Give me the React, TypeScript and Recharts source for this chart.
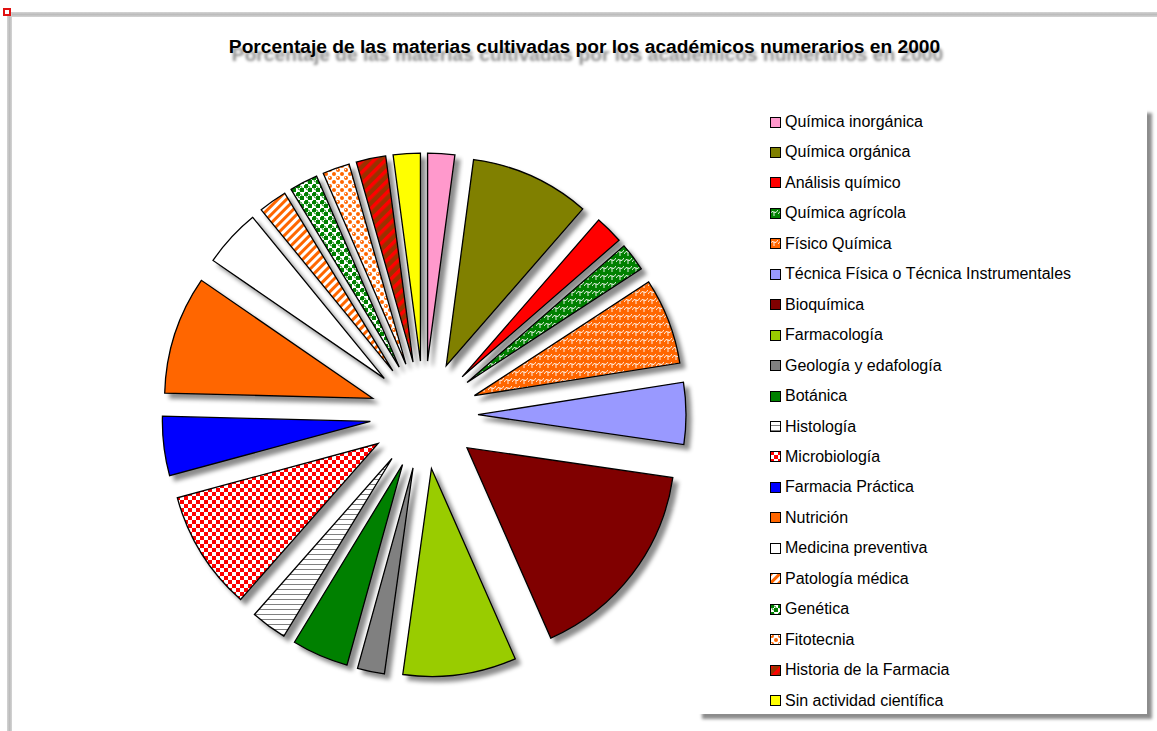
import { PieChart, Pie, Cell, Legend, Sector } from "recharts";

const categories: string[] = [
  "Química inorgánica",
  "Química orgánica",
  "Análisis químico",
  "Química agrícola",
  "Físico Química",
  "Técnica Física o Técnica Instrumentales",
  "Bioquímica",
  "Farmacología",
  "Geología y edafología",
  "Botánica",
  "Histología",
  "Microbiología",
  "Farmacia Práctica",
  "Nutrición",
  "Medicina preventiva",
  "Patología médica",
  "Genética",
  "Fitotecnia",
  "Historia de la Farmacia",
  "Sin actividad científica",
];

// porcentaje de cada materia
const values: number[] = [
  2.1, 9.3, 2.2, 2.2, 6.7, 4.8, 16.1, 8.8, 2.1, 4.4, 2.8, 9.3, 4.6, 9.2, 4.5,
  2.2, 2.2, 2.1, 2.3, 2.1,
];

const fills: string[] = [
  "#FF99CC",
  "#808000",
  "#FF0000",
  "url(#patAgricola)",
  "url(#patFisico)",
  "#9999FF",
  "#800000",
  "#99CC00",
  "#808080",
  "#008000",
  "url(#patHisto)",
  "url(#patMicro)",
  "#0000FF",
  "#FF6600",
  "#FFFFFF",
  "url(#patPato)",
  "url(#patGenetica)",
  "url(#patFito)",
  "url(#patHistoria)",
  "#FFFF00",
];

const data = categories.map((name, i) => ({ name, value: values[i] }));

const RADIAN = Math.PI / 180;
const EXPLODE = 54;

const ExplodedSector = (props: any) => {
  const { cx, cy, midAngle } = props;
  const dx = EXPLODE * Math.cos(-midAngle * RADIAN);
  const dy = EXPLODE * Math.sin(-midAngle * RADIAN);
  return (
    <g filter="url(#sliceShadow)">
      <Sector {...props} cx={cx + dx} cy={cy + dy} />
    </g>
  );
};

const Patterns = () => (
  <svg width={0} height={0} style={{ position: "absolute" }}>
    <defs>
      <filter id="sliceShadow" x="-20%" y="-20%" width="150%" height="150%">
        <feDropShadow dx="5" dy="5" stdDeviation="2.2" floodColor="#000" floodOpacity="0.45" />
      </filter>
      <pattern id="patAgricola" width="8" height="8" patternUnits="userSpaceOnUse">
        <rect width="8" height="8" fill="#008000" />
        <path d="M0 6 Q2 2 4 4 Q6 6 8 2 M4 4 L4 8" stroke="#fff" strokeWidth="0.9" fill="none" />
      </pattern>
      <pattern id="patFisico" width="8" height="8" patternUnits="userSpaceOnUse">
        <rect width="8" height="8" fill="#FF6600" />
        <path d="M0 6 Q2 2 4 4 Q6 6 8 2 M4 4 L4 8" stroke="#fff" strokeWidth="0.9" fill="none" />
      </pattern>
      <pattern id="patHisto" width="5" height="5" patternUnits="userSpaceOnUse">
        <rect width="5" height="5" fill="#fff" />
        <rect y="4" width="5" height="1" fill="#808080" />
      </pattern>
      <pattern id="patMicro" width="8" height="8" patternUnits="userSpaceOnUse">
        <rect width="8" height="8" fill="#fff" />
        <rect width="4" height="4" fill="#FF0000" />
        <rect x="4" y="4" width="4" height="4" fill="#FF0000" />
      </pattern>
      <pattern id="patPato" width="6" height="6" patternUnits="userSpaceOnUse" patternTransform="rotate(45)">
        <rect width="6" height="6" fill="#fff" />
        <rect width="3" height="6" fill="#FF6600" />
      </pattern>
      <pattern id="patGenetica" width="8" height="8" patternUnits="userSpaceOnUse">
        <rect width="8" height="8" fill="#fff" />
        <rect width="4" height="4" fill="#008000" />
        <rect x="4" y="4" width="4" height="4" fill="#008000" />
        <circle cx="4" cy="4" r="2" fill="none" stroke="#008000" strokeWidth="0.8" />
        <circle cx="0" cy="0" r="1.2" fill="#fff" />
      </pattern>
      <pattern id="patFito" width="8" height="8" patternUnits="userSpaceOnUse">
        <rect width="8" height="8" fill="#fff" />
        <circle cx="2" cy="2" r="2" fill="#FF6600" />
        <circle cx="6" cy="6" r="2" fill="#FF6600" />
        <circle cx="1.5" cy="1.5" r="0.7" fill="#fff" />
      </pattern>
      <pattern id="patHistoria" width="8" height="8" patternUnits="userSpaceOnUse" patternTransform="rotate(45)">
        <rect width="8" height="8" fill="#993300" />
        <rect width="3.5" height="8" fill="#FF0000" />
      </pattern>
    </defs>
  </svg>
);

const LegendBox = (props: any) => {
  const payload = [...(props.payload || [])].sort(
    (a: any, b: any) => categories.indexOf(a.value) - categories.indexOf(b.value)
  );
  return (
    <div
      style={{
        position: "relative",
        width: 450,
        height: 606,
        background: "#fff",
        boxShadow: "5px 5px 3px rgba(0,0,0,0.45)",
        fontFamily: "'Liberation Sans', Arial, sans-serif",
        fontSize: 16,
        color: "#000",
      }}
    >
      {payload.map((entry: any, i: number) => {
        const idx = categories.indexOf(entry.value);
        return (
          <div
            key={entry.value}
            style={{
              position: "absolute",
              left: 73,
              top: 14 + i * 30.45 - 9,
              height: 18,
              display: "flex",
              alignItems: "center",
              whiteSpace: "nowrap",
            }}
          >
            <svg width={11} height={11} style={{ marginRight: 4 }}>
              <rect x={0.5} y={0.5} width={10} height={10} fill={fills[idx]} stroke="#000" strokeWidth={1} />
            </svg>
            <span>{entry.value}</span>
          </div>
        );
      })}
    </div>
  );
};

export default function App() {
  return (
    <div style={{ position: "absolute", left: 0, top: 0, width: 1157, height: 731, overflow: "hidden", background: "#fff" }}>
      <Patterns />
      <div style={{ position: "absolute", left: 7, top: 12, width: 1150, height: 5, background: "linear-gradient(#d4d4d4, #bcbcbc, #d4d4d4)" }} />
      <div style={{ position: "absolute", left: 7, top: 12, width: 5, height: 719, background: "linear-gradient(90deg, #d4d4d4, #bcbcbc, #d4d4d4)" }} />
      <div style={{ position: "absolute", left: 3, top: 8, width: 4, height: 4, border: "2px solid #e01010", background: "#fff" }} />
      <div
        style={{
          position: "absolute",
          left: 6,
          top: 37,
          width: 1157,
          textAlign: "center",
          fontFamily: "'Liberation Sans', Arial, sans-serif",
          fontWeight: "bold",
          fontSize: 19.2,
          lineHeight: "19px",
          color: "#000",
          textShadow: "3px 8px 3px rgba(0,0,0,0.45)",
        }}
      >
        Porcentaje de las materias cultivadas por los académicos numerarios en 2000
      </div>
      <PieChart width={1157} height={731} margin={{ top: 0, right: 0, bottom: 0, left: 0 }} style={{ position: "absolute", left: 0, top: 0 }}>
        <Pie
          data={data}
          dataKey="value"
          nameKey="name"
          cx={424}
          cy={415}
          outerRadius={208}
          startAngle={90}
          endAngle={-270}
          stroke="#000"
          strokeWidth={1.3}
          isAnimationActive={false}
          shape={ExplodedSector}
          activeShape={ExplodedSector}
          inactiveShape={ExplodedSector}
        >
          {data.map((d, i) => (
            <Cell key={d.name} fill={fills[i]} />
          ))}
        </Pie>
        <Legend
          layout="vertical"
          align="right"
          verticalAlign="top"
          content={<LegendBox />}
          wrapperStyle={{ position: "absolute", left: 697, top: 108, width: 450, height: 606, right: "auto", bottom: "auto" }}
        />
      </PieChart>
    </div>
  );
}
